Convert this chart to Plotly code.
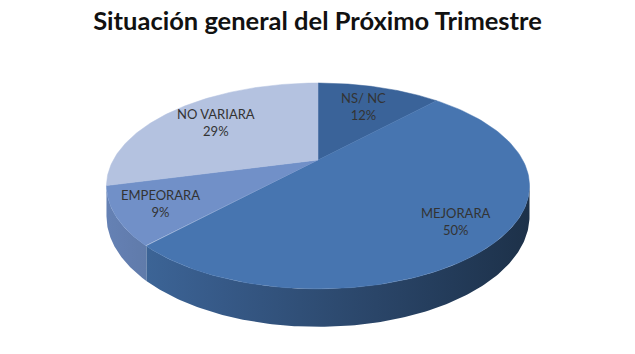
import numpy as np
import plotly.graph_objects as go

# ---- data ----
labels = ["NS/ NC", "MEJORARA", "EMPEORARA", "NO VARIARA"]
values = [12, 50, 9, 29]
title_text = "Situación general del Próximo Trimestre"

# ---- style ----
top_colors = ["#3a6399", "#4775b0", "#7190c8", "#b4c2e0"]
label_radius = [0.70, 0.80, 0.80, 0.70]

W, H = 635, 354
cx, cy = 318.0, 160.0
A, B = 204.7, 96.4
p = 0.252
h = 28.4


def proj(t, r=1.0, z=0.0):
    u = r * np.sin(t)
    w = -r * np.cos(t)
    den = 1 - p * w
    return cx + A * u / den, cy + (B * w + h * z) / den


def hex2rgb(c):
    c = c.lstrip("#")
    return [int(c[i:i + 2], 16) for i in (0, 2, 4)]


def shade(c, f):
    r, g, b = hex2rgb(c)
    return "rgb(%d,%d,%d)" % (r * f, g * f, b * f)


def side_factor(x):
    return 0.90 - 0.48 * (x - (cx - 211.5)) / 423.0


total = float(sum(values))
bounds = np.concatenate([[0], np.cumsum(values)]) / total * 2 * np.pi

fig = go.Figure()

# side walls (front, visible part only), one polygon per slice with gradient
xl, _ = proj(np.arccos(-p) * -1 + 2 * np.pi)  # leftmost silhouette
t_right = np.arccos(-p)
t_left = 2 * np.pi - np.arccos(-p)
for i in range(len(values)):
    t0 = max(bounds[i], t_right)
    t1 = min(bounds[i + 1], t_left)
    if t1 <= t0:
        continue
    ts = np.linspace(t0, t1, 150)
    xt, yt = proj(ts)
    xb, yb = proj(ts[::-1], z=1)
    xs = np.concatenate([xt, xb, xt[:1]])
    ys = np.concatenate([yt, yb, yt[:1]])
    xmin, xmax = xs.min(), xs.max()
    stops = np.linspace(0, 1, 6)
    cs = [[float(s), shade(top_colors[i], side_factor(xmin + s * (xmax - xmin)))] for s in stops]
    fig.add_trace(go.Scatter(
        x=xs, y=ys, mode="lines", fill="toself",
        fillgradient=dict(type="horizontal", colorscale=cs),
        line=dict(width=0), hoverinfo="skip", showlegend=False))

# top faces
for i in range(len(values)):
    ts = np.linspace(bounds[i], bounds[i + 1], 120)
    xa, ya = proj(ts)
    x0, y0 = proj(0.0, r=0.0)
    xs = np.concatenate([[x0], xa, [x0]])
    ys = np.concatenate([[y0], ya, [y0]])
    fig.add_trace(go.Scatter(
        x=xs, y=ys, mode="lines", fill="toself", fillcolor=top_colors[i],
        line=dict(color=top_colors[i], width=0.5), hoverinfo="skip",
        showlegend=False, name=labels[i]))

# labels
for i in range(len(values)):
    tm = 0.5 * (bounds[i] + bounds[i + 1])
    lx, ly = proj(tm, r=label_radius[i])
    pct = round(values[i] / total * 100)
    fig.add_annotation(x=lx, y=ly, text="%s<br>%d%%" % (labels[i], pct),
                       showarrow=False, xref="x", yref="y",
                       font=dict(family="Lato, Open Sans, sans-serif", size=13, color="#333333"))

fig.update_layout(
    width=W, height=H,
    margin=dict(l=0, r=0, t=0, b=0),
    paper_bgcolor="white", plot_bgcolor="white",
    hovermode=False,
    title=dict(text="<b>%s</b>" % title_text, x=0.5, xanchor="center", y=0.94, yanchor="middle",
               font=dict(family="Lato, Open Sans, sans-serif", size=25.5, color="#111111")),
    xaxis=dict(range=[0, W], visible=False, fixedrange=True),
    yaxis=dict(range=[H, 0], visible=False, fixedrange=True),
)

fig.write_html("out.html")
